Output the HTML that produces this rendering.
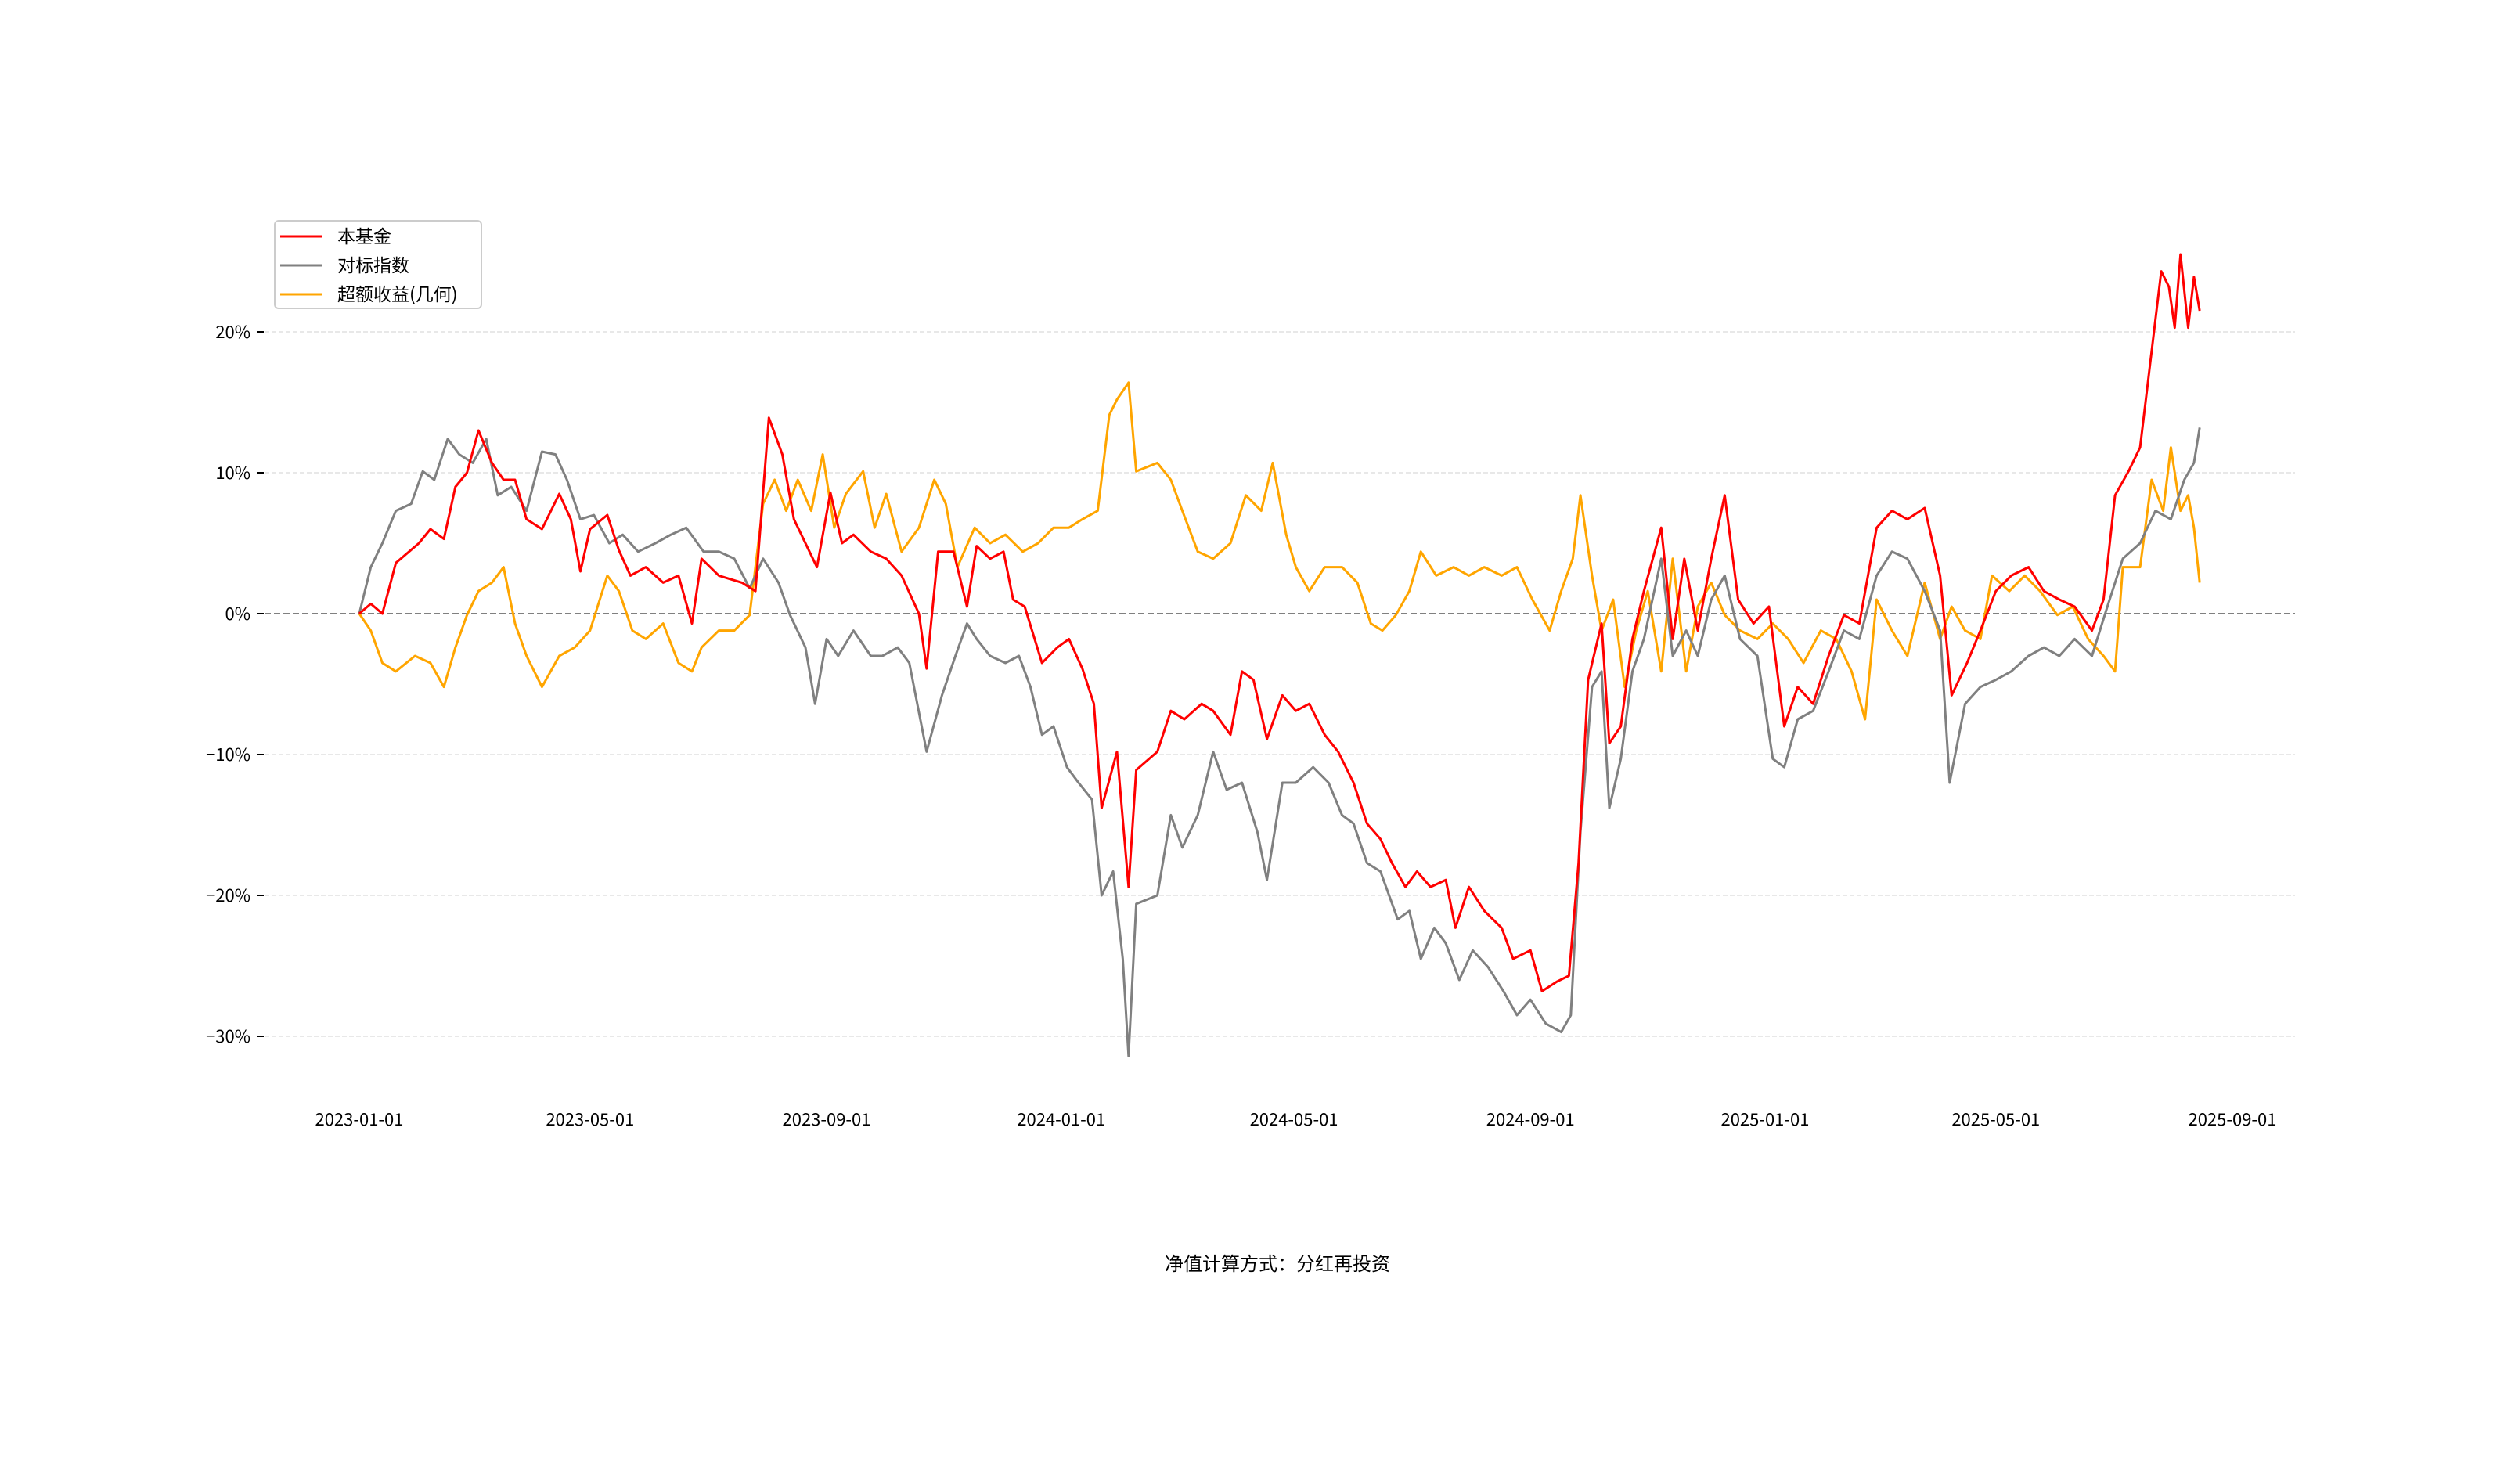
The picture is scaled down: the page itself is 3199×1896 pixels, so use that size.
<!DOCTYPE html>
<html><head><meta charset="utf-8"><style>
html,body{margin:0;padding:0;background:#fff;}
svg{display:block;font-family:"WenQuanYi Zen Hei","Noto Sans CJK SC",sans-serif;}
</style></head><body>
<svg id="chart" width="3199" height="1896" viewBox="0 0 3199 1896" xmlns="http://www.w3.org/2000/svg">
<g id="grid"></g>
<g id="yaxis"></g>
<g id="xaxis"></g>
<g id="series"></g>
<g>
<rect x="351" y="282" width="264" height="112" rx="5" fill="#fff" stroke="#ccc" stroke-width="2"/>
<line x1="358" y1="302" x2="412" y2="302" stroke="#ff0000" stroke-width="3"/>
<text x="431" y="310" font-size="23" fill="#000">本基金</text>
<line x1="358" y1="339" x2="412" y2="339" stroke="#808080" stroke-width="3"/>
<text x="431" y="347" font-size="23" fill="#000">对标指数</text>
<line x1="358" y1="376" x2="412" y2="376" stroke="#ffa500" stroke-width="3"/>
<text x="431" y="384" font-size="23" fill="#000">超额收益(几何)</text>
</g>
<text x="1632" y="1623" font-size="24" text-anchor="middle" fill="#000">净值计算方式：分红再投资</text>
</svg>
<script>
const yTicks=[20,10,0,-10,-20,-30];
const yTickLabels=["20%","10%","0%","−10%","−20%","−30%"];
const xTickDays=[0,120,243,365,486,609,731,851,974];
const xTickLabels=["2023-01-01","2023-05-01","2023-09-01","2024-01-01","2024-05-01","2024-09-01","2025-01-01","2025-05-01","2025-09-01"];
const fundDays=[0,6,12,19,31,37,44,50,56,62,69,75,81,87,95,104,110,115,120,129,135,141,149,158,166,173,178,187,199,206,213,220,226,232,238,245,251,257,266,274,282,291,295,301,309,316,321,328,335,340,346,355,363,369,376,382,386,394,400,404,415,422,429,438,444,453,459,465,472,480,487,494,502,509,517,524,531,537,544,550,557,565,570,577,585,594,600,609,615,623,629,634,639,646,650,656,662,668,677,683,689,696,703,710,717,725,733,741,748,756,764,772,780,789,797,805,814,822,828,836,843,851,859,868,876,884,892,901,907,913,920,926,931,937,941,944,947,951,954,957];
const fundValues=[0,0.7,0,3.6,5,6,5.3,9,10,13,10.7,9.5,9.5,6.7,6,8.5,6.7,3,6,7,4.5,2.7,3.3,2.2,2.7,-0.7,3.9,2.7,2.2,1.6,13.9,11.3,6.7,5,3.3,8.6,5,5.6,4.4,3.9,2.7,0,-3.9,4.4,4.4,0.5,4.8,3.9,4.4,1,0.5,-3.5,-2.4,-1.8,-3.9,-6.4,-13.8,-9.8,-19.4,-11.1,-9.8,-6.9,-7.5,-6.4,-6.9,-8.6,-4.1,-4.7,-8.9,-5.8,-6.9,-6.4,-8.6,-9.8,-12,-14.9,-16,-17.7,-19.4,-18.3,-19.4,-18.9,-22.3,-19.4,-21.1,-22.3,-24.5,-23.9,-26.8,-26.1,-25.7,-17.7,-4.7,-0.7,-9.2,-8,-1.8,1.6,6.1,-1.8,3.9,-1.2,3.9,8.4,1,-0.7,0.5,-8,-5.2,-6.4,-3,-0.1,-0.7,6.1,7.3,6.7,7.5,2.7,-5.8,-3.5,-1.2,1.6,2.7,3.3,1.6,1,0.5,-1.2,1,8.4,10.1,11.8,17.5,24.3,23.2,20.3,25.5,20.3,23.9,21.5];
const indexDays=[0,6,12,19,27,33,39,46,52,59,66,72,79,87,95,102,108,115,122,130,137,145,154,162,170,179,187,195,203,210,218,224,232,237,243,249,257,266,272,280,286,295,303,310,316,321,328,336,343,349,355,361,368,374,381,386,392,397,400,404,415,422,428,436,444,451,459,467,472,480,487,496,504,511,517,524,531,540,546,552,559,565,572,579,587,595,602,609,617,625,630,635,641,646,650,656,662,668,677,683,690,696,703,710,718,727,735,741,748,756,764,772,780,789,797,805,814,822,827,835,843,851,859,868,876,884,892,901,909,917,926,934,942,949,954,957];
const indexValues=[0,3.3,5,7.3,7.8,10.1,9.5,12.4,11.3,10.7,12.4,8.4,9,7.3,11.5,11.3,9.5,6.7,7,5,5.6,4.4,5,5.6,6.1,4.4,4.4,3.9,1.8,3.9,2.2,-0.1,-2.4,-6.4,-1.8,-3,-1.2,-3,-3,-2.4,-3.5,-9.8,-5.8,-3,-0.7,-1.8,-3,-3.5,-3,-5.2,-8.6,-8,-10.9,-12,-13.2,-20,-18.3,-24.5,-31.4,-20.6,-20,-14.3,-16.6,-14.3,-9.8,-12.5,-12,-15.5,-18.9,-12,-12,-10.9,-12,-14.3,-14.9,-17.7,-18.3,-21.7,-21.1,-24.5,-22.3,-23.4,-26,-23.9,-25.1,-26.8,-28.5,-27.4,-29.1,-29.7,-28.5,-15.5,-5.2,-4.1,-13.8,-10.3,-4.1,-1.8,3.9,-3,-1.2,-3,1,2.7,-1.8,-3,-10.3,-10.9,-7.5,-6.9,-4.1,-1.2,-1.8,2.7,4.4,3.9,1.6,-1.2,-12,-6.4,-5.2,-4.7,-4.1,-3,-2.4,-3,-1.8,-3,0.5,3.9,5,7.3,6.7,9.5,10.7,13.2];
const excessDays=[0,6,12,19,29,37,44,50,56,62,69,75,81,87,95,104,112,120,129,135,142,149,158,166,173,178,187,195,203,210,216,222,228,235,241,247,253,262,268,274,282,291,299,305,311,320,328,336,345,353,361,369,376,384,390,394,400,404,415,422,428,436,444,453,461,469,475,482,487,494,502,511,519,526,532,539,546,552,560,569,577,585,594,602,610,619,625,631,635,641,646,652,658,664,670,677,683,690,696,703,710,718,727,735,743,751,760,768,776,783,789,797,805,814,822,828,835,843,849,858,866,874,883,891,899,907,913,917,926,932,938,942,947,951,954,957];
const excessValues=[0,-1.2,-3.5,-4.1,-3,-3.5,-5.2,-2.4,-0.1,1.6,2.2,3.3,-0.7,-3,-5.2,-3,-2.4,-1.2,2.7,1.6,-1.2,-1.8,-0.7,-3.5,-4.1,-2.4,-1.2,-1.2,-0.1,7.8,9.5,7.3,9.5,7.3,11.3,6.1,8.5,10.1,6.1,8.5,4.4,6.1,9.5,7.8,3.3,6.1,5,5.6,4.4,5,6.1,6.1,6.7,7.3,14.1,15.2,16.4,10.1,10.7,9.5,7.3,4.4,3.9,5,8.4,7.3,10.7,5.6,3.3,1.6,3.3,3.3,2.2,-0.7,-1.2,-0.1,1.6,4.4,2.7,3.3,2.7,3.3,2.7,3.3,1,-1.2,1.6,3.9,8.4,2.7,-1.2,1,-5.2,-1.2,1.6,-4.1,3.9,-4.1,0.5,2.2,-0.1,-1.2,-1.8,-0.7,-1.8,-3.5,-1.2,-1.8,-4.1,-7.5,1,-1.2,-3,2.2,-1.8,0.5,-1.2,-1.8,2.7,1.6,2.7,1.6,-0.1,0.5,-1.8,-3,-4.1,3.3,3.3,9.5,7.3,11.8,7.3,8.4,6.1,2.2];

const NS="http://www.w3.org/2000/svg";
const X0=459,XPD=2393/974,Y0=784,YPP=18,GL=338,GR=2932;
const xs=d=>X0+d*XPD, ys=v=>Y0-v*YPP;
function mk(t,a,p){const e=document.createElementNS(NS,t);for(const k in a)e.setAttribute(k,a[k]);p.appendChild(e);return e;}
const grid=document.getElementById('grid'),ya=document.getElementById('yaxis'),xa=document.getElementById('xaxis'),sg=document.getElementById('series');
yTicks.forEach((v,i)=>{
  const y=ys(v);
  if(v!==0){const g=mk('line',{x1:GL,x2:GR,y1:y,y2:y,stroke:'#e8e8e8','stroke-width':2,'stroke-dasharray':'6 3'},grid);
  
  }
  const t=mk('line',{x1:328,x2:337,y1:y,y2:y,stroke:'#000','stroke-width':2},ya);
  
  
  const l=mk('text',{x:320,y:y+8,'font-size':22,'text-anchor':'end',fill:'#000'},ya);
  l.textContent=yTickLabels[i];
  
  
});
const z=mk('line',{x1:GL,x2:GR,y1:ys(0),y2:ys(0),stroke:'#808080','stroke-width':2,'stroke-dasharray':'8 4'},grid);


xTickDays.forEach((d,i)=>{
  const l=mk('text',{x:xs(d),y:1438,'font-size':22,'text-anchor':'middle',fill:'#000'},xa);
  l.textContent=xTickLabels[i];
  
  
});
function line(days,vals,color,name){
  const p=mk('polyline',{points:days.map((d,i)=>xs(d).toFixed(1)+','+ys(vals[i]).toFixed(1)).join(' '),fill:'none',stroke:color,'stroke-width':3,'stroke-linejoin':'round'},sg);
  
  
}
line(excessDays,excessValues,'#ffa500','excess-return-line');
line(indexDays,indexValues,'#808080','benchmark-index-line');
line(fundDays,fundValues,'#ff0000','fund-line');
</script>
</body></html>
